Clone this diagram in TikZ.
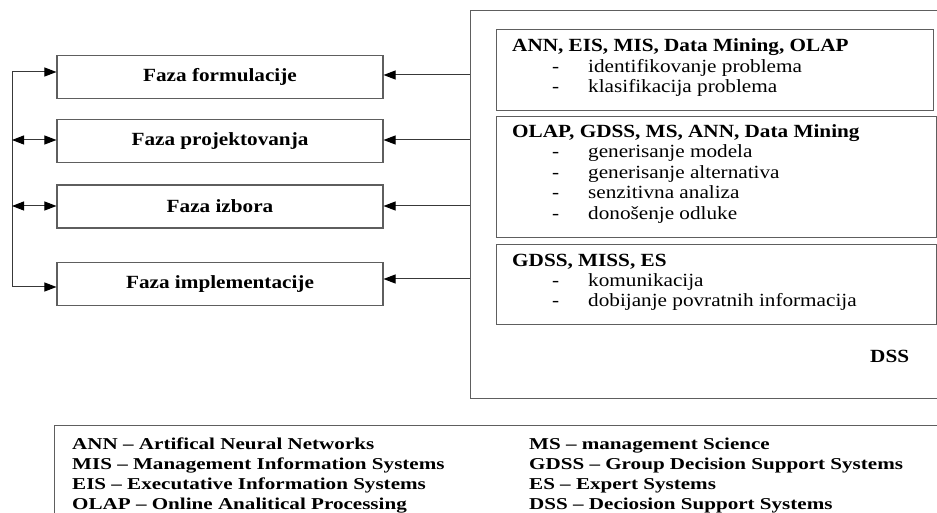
\documentclass[tikz,border=0pt]{standalone}
\usepackage{fontspec}
\setmainfont{Liberation Serif}
\newfontfamily\upfont[FakeStretch=1.14]{Liberation Serif}
\newfontfamily\legfont[FakeStretch=1.27]{Liberation Serif}
\usetikzlibrary{arrows.meta}

\definecolor{boxgray}{HTML}{5E5E5E}
\definecolor{linegray}{HTML}{383838}

\tikzset{
  phase/.style={draw=boxgray, line width=1.1bp, minimum width=326bp, minimum height=43bp,
    inner sep=0pt, font=\upfont\bfseries\fontsize{18.6bp}{20bp}\selectfont},
  toolbox/.style={draw=boxgray, line width=1.1bp},
  head/.style={anchor=base west, inner sep=0pt, font=\upfont\bfseries\fontsize{18.6bp}{20bp}\selectfont},
  item/.style={anchor=base west, inner sep=0pt, font=\upfont\fontsize{18.6bp}{20bp}\selectfont},
  legend/.style={anchor=base west, inner sep=0pt, font=\legfont\bfseries\fontsize{16.6bp}{20bp}\selectfont},
  conn/.style={draw=linegray, line width=1bp},
  tip/.tip={Triangle[length=12bp,width=9bp,color=black,fill=black]},
  arr/.style={conn, -tip},
  darr/.style={conn, tip-tip},
}

\begin{document}
\begin{tikzpicture}[x=1bp, y=-1bp]
  \clip (0,0) rectangle (937,513);
  \fill[white] (0,0) rectangle (937,513);

  % decision phases
  \node[phase] (f1) at (220,77)  {Faza formulacije};
  \node[phase] (f2) at (220,141) {Faza projektovanja};
  \node[phase] (f3) at (220,206.5) {Faza izbora};
  \node[phase] (f4) at (220,284) {Faza implementacije};

  % DSS frame (runs past the right edge)
  \node[draw=boxgray, line width=1.1bp, inner sep=0pt, minimum width=480bp, minimum height=388bp,
        anchor=north west] (dss) at (470,10) {};
  \node[anchor=base west, inner sep=0pt, font=\upfont\bfseries\fontsize{18.6bp}{20bp}\selectfont]
        (dsslbl) at (870,363) {DSS};

  % tool groups inside the DSS frame
  \node[toolbox, inner sep=0pt, minimum width=437bp, minimum height=81bp, anchor=north west] (t1) at (496,29) {};
  \node[toolbox, inner sep=0pt, minimum width=440bp, minimum height=121bp, anchor=north west] (t2) at (496,116) {};
  \node[toolbox, inner sep=0pt, minimum width=440bp, minimum height=80bp, anchor=north west] (t3) at (496,244) {};

  \node[head] (h1) at (512,51.7) {ANN, EIS, MIS, Data Mining, OLAP};
  \node[item] (d11) at (552,72.7) {-};
  \node[item] (i11) at (588,72.7) {identifikovanje problema};
  \node[item] (d12) at (552,92.7) {-};
  \node[item] (i12) at (588,92.7) {klasifikacija problema};

  \node[head] (h2) at (512,138) {OLAP, GDSS, MS, ANN, Data Mining};
  \node[item] (d21) at (552,158) {-};
  \node[item] (i21) at (588,158) {generisanje modela};
  \node[item] (d22) at (552,179) {-};
  \node[item] (i22) at (588,179) {generisanje alternativa};
  \node[item] (d23) at (552,199) {-};
  \node[item] (i23) at (588,199) {senzitivna analiza};
  \node[item] (d24) at (552,220) {-};
  \node[item] (i24) at (588,220) {donošenje odluke};

  \node[head] (h3) at (512,267) {GDSS, MISS, ES};
  \node[item] (d31) at (552,287) {-};
  \node[item] (i31) at (588,287) {komunikacija};
  \node[item] (d32) at (552,307) {-};
  \node[item] (i32) at (588,307) {dobijanje povratnih informacija};

  % arrows from the DSS frame to the phases
  \coordinate (r1) at (dss.west |- 0,75);
  \coordinate (r2) at (dss.west |- 0,140);
  \coordinate (r3) at (dss.west |- 0,206);
  \coordinate (r4) at (dss.west |- 0,279);
  \draw[arr] (r1) -- (f1.east |- r1);
  \draw[arr] (r2) -- (f2.east |- r2);
  \draw[arr] (r3) -- (f3.east |- r3);
  \draw[arr] (r4) -- (f4.east |- r4);

  % feedback loop on the left
  \coordinate (lt) at (12,72);
  \coordinate (lb) at (12,287);
  \draw[conn] (lt) -- (lb);
  \draw[arr] (lt) -- (f1.west |- lt);
  \draw[arr] (lb) -- (f4.west |- lb);
  \coordinate (l2) at (12,140);
  \coordinate (l3) at (12,206);
  \draw[darr] (l2) -- (f2.west |- l2);
  \draw[darr] (l3) -- (f3.west |- l3);

  % abbreviations
  \node[draw=boxgray, line width=1.1bp, inner sep=0pt, minimum width=900bp, minimum height=120bp,
        anchor=north west] (leg) at (54,425) {};
  \node[legend] (a1) at (72,449) {ANN – Artifical Neural Networks};
  \node[legend] (a2) at (72,469) {MIS – Management Information Systems};
  \node[legend] (a3) at (72,489) {EIS – Executative Information Systems};
  \node[legend] (a4) at (72,509) {OLAP – Online Analitical Processing};
  \node[legend] (b1) at (529,449) {MS – management Science};
  \node[legend] (b2) at (529,469) {GDSS – Group Decision Support Systems};
  \node[legend] (b3) at (529,489) {ES – Expert Systems};
  \node[legend] (b4) at (529,509) {DSS – Deciosion Support Systems};
\end{tikzpicture}
\end{document}
